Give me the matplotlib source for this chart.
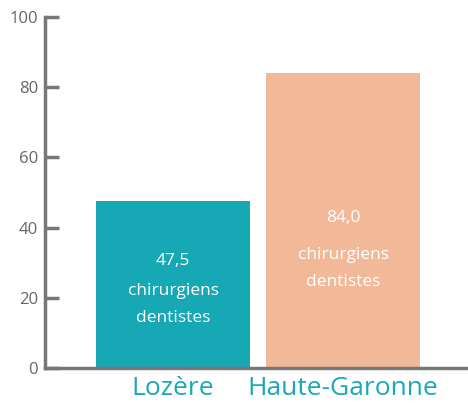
import matplotlib.pyplot as plt

# données
departements = ['Lozère', 'Haute-Garonne']
valeurs = [47.5, 84.0]
etiquettes = ['47,5', '84,0']
couleurs = ['#17A8B5', '#F2B998']
yticks = [0, 20, 40, 60, 80, 100]

plt.rcParams['font.family'] = ['Open Sans', 'DejaVu Sans']

fig = plt.figure(figsize=(4.68, 4.07), dpi=100)
ax = fig.add_axes([45 / 468, 39 / 407, 423 / 468, 351 / 407])

x = list(range(len(departements)))
ax.bar(x, valeurs, width=0.906, color=couleurs, zorder=1)

# texte dans les barres (une ligne par appel)
pos_lignes = [(30.4, 22.0, 14.2), (42.8, 32.3, 24.6)]
for i, (y0, y1, y2) in enumerate(pos_lignes):
    ax.text(i, y0, etiquettes[i], ha='center', va='center', color='white', fontsize=12.5)
    ax.text(i, y1, 'chirurgiens', ha='center', va='center', color='white', fontsize=12.5)
    ax.text(i, y2, 'dentistes', ha='center', va='center', color='white', fontsize=12.5)

ax.set_xlim(-0.753, 1.735)
ax.set_ylim(0, 100)
ax.set_yticks(yticks)
ax.set_xticks(x)
ax.set_xticklabels(departements, fontsize=19, color='#1AA8B8')
ax.tick_params(axis='x', length=0, pad=6)
ax.tick_params(axis='y', direction='in', length=10, width=2.5, color='#777777',
               labelcolor='#666666', labelsize=12, pad=5)

for s in ['top', 'right']:
    ax.spines[s].set_visible(False)
for s in ['left', 'bottom']:
    ax.spines[s].set_color('#777777')
    ax.spines[s].set_linewidth(2.5)
ax.spines['left'].set_zorder(3)
ax.spines['bottom'].set_zorder(3)

fig.savefig('out.png', dpi=100)
